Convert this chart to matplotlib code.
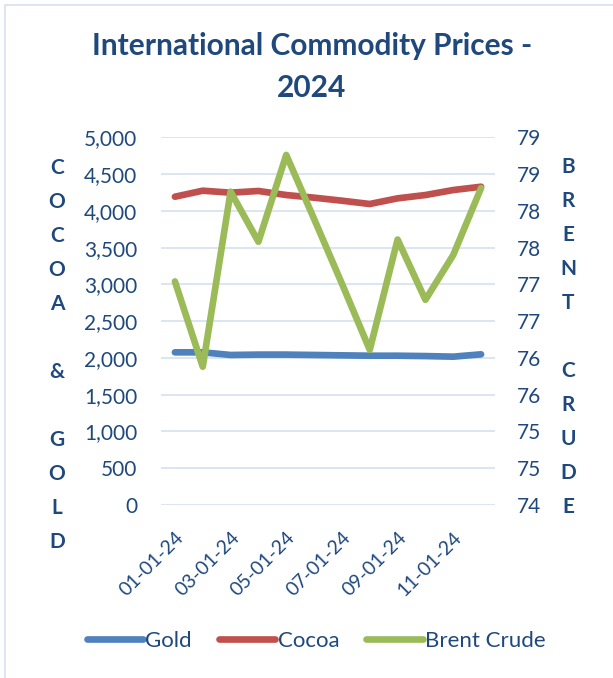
import matplotlib
matplotlib.use("Agg")
import matplotlib.pyplot as plt
from matplotlib.ticker import FuncFormatter, MultipleLocator
from matplotlib.patches import Rectangle
import numpy as np

months = ["01-01-24", "02-01-24", "03-01-24", "04-01-24", "05-01-24", "06-01-24",
          "07-01-24", "08-01-24", "09-01-24", "10-01-24", "11-01-24", "12-01-24"]
gold = [2076, 2076, 2040, 2045, 2045, 2040, 2035, 2030, 2030, 2025, 2017, 2049]
cocoa = [4192, 4274, 4247, 4270, 4215, 4179, 4138, 4093, 4170, 4215, 4283, 4328]
brent = [77.04, 75.88, 78.26, 77.58, 78.76, 77.89, 77.01, 76.11, 77.61, 76.79, 77.40, 78.31]

W, H = 613, 678
TXT = "#1F497D"
GRID = "#D9E4F1"
FONT = ["Lato", "DejaVu Sans"]
plt.rcParams["font.family"] = FONT

fig = plt.figure(figsize=(W / 100, H / 100), dpi=100)
fig.patch.set_facecolor("white")
# chart border
fig.patches.append(Rectangle((5 / W, -0.01), 1.2, (H - 5) / H + 0.01, transform=fig.transFigure,
                             fill=False, edgecolor="#D6E2EF", lw=1.2))

ax = fig.add_axes([161 / W, 1 - 505 / H, (495 - 161) / W, (505 - 137.3) / H])
ax2 = ax.twinx()

x = np.arange(len(months))
ax.plot(x, gold, color="#4F81BD", lw=4.8, solid_capstyle="round", solid_joinstyle="round", label="Gold", zorder=3)
ax.plot(x, cocoa, color="#C0504D", lw=4.8, solid_capstyle="round", solid_joinstyle="round", label="Cocoa", zorder=3)
ax2.plot(x, brent, color="#9BBB59", lw=4.8, solid_capstyle="round", solid_joinstyle="round", label="Brent Crude", zorder=3)

ax.set_xlim(-0.5, len(months) - 0.5)
ax.set_ylim(0, 5000)
ax2.set_ylim(74, 79)
ax.yaxis.set_major_locator(MultipleLocator(500))
ax2.yaxis.set_major_locator(MultipleLocator(0.5))
ax.yaxis.set_major_formatter(FuncFormatter(lambda v, p: f"{int(v):,}"))
ax2.yaxis.set_major_formatter(FuncFormatter(lambda v, p: f"{int(np.floor(v + 0.5))}"))
ax.grid(axis="y", color=GRID, lw=1.3)
ax.set_axisbelow(True)

for a in (ax, ax2):
    for s in a.spines.values():
        s.set_visible(False)
    a.tick_params(axis="both", length=0, colors=TXT, labelsize=15)
ax.tick_params(axis="y", pad=17)
ax2.tick_params(axis="y", pad=16)

ax.set_xticks(x[::2])
ax.set_xticklabels(months[::2], rotation=45, ha="right", va="top", rotation_mode="anchor")
ax.tick_params(axis="x", pad=17, labelsize=14)

# title
fig.text(312 / W, 1 - 67 / H, "International Commodity Prices -\n2024", ha="center", va="center",
         fontsize=21.5, fontweight="bold", color=TXT, linespacing=1.65)

# stacked axis titles
left_title = "COCOA & GOLD"
for i, ch in enumerate(left_title):
    if ch.strip():
        fig.text(57 / W, 1 - (168 + 34 * i) / H, ch, ha="center", va="center",
                 fontsize=15, fontweight="bold", color=TXT)
right_title = "BRENT CRUDE"
for i, ch in enumerate(right_title):
    if ch.strip():
        fig.text(568 / W, 1 - (167 + 34 * i) / H, ch, ha="center", va="center",
                 fontsize=15, fontweight="bold", color=TXT)

h1, l1 = ax.get_legend_handles_labels()
h2, l2 = ax2.get_legend_handles_labels()
leg = fig.legend(h1 + h2, l1 + l2, loc="center", bbox_to_anchor=(316 / W, 1 - 641 / H), ncol=3,
                 frameon=False, fontsize=16, handlelength=2.55, handletextpad=0.1, columnspacing=1.2)
for t in leg.get_texts():
    t.set_color(TXT)

fig.savefig("out.png", dpi=100, facecolor="white")
